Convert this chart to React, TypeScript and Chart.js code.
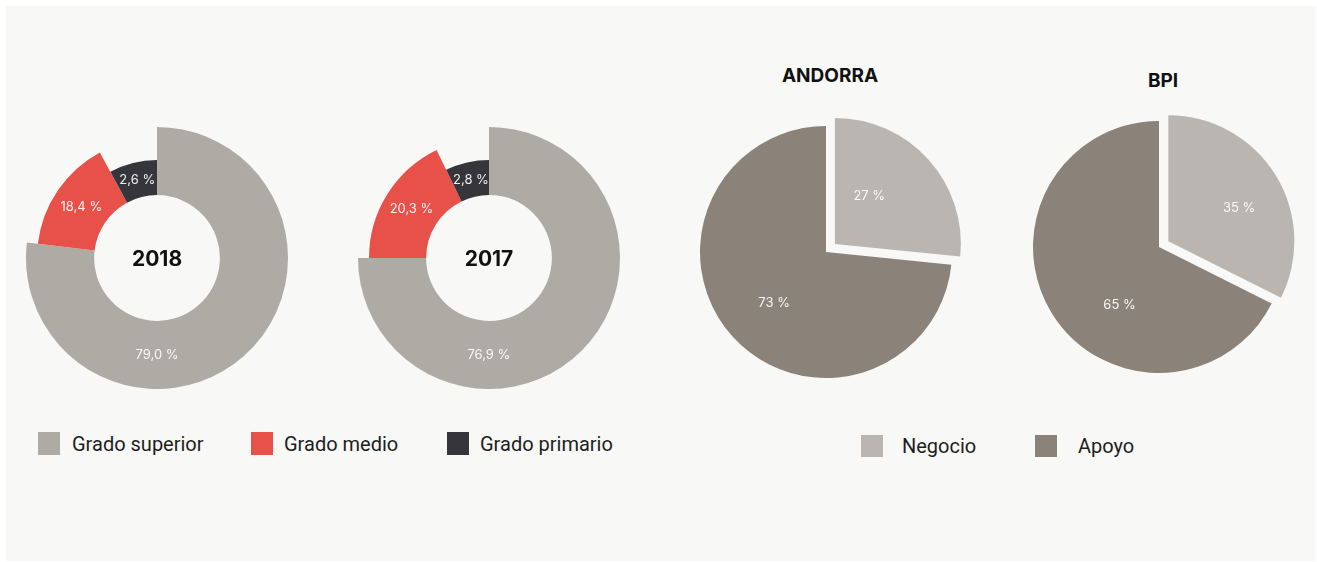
import { useEffect, useRef } from "react";
import { Chart, registerables } from "chart.js";

Chart.register(...registerables);

// ---------------- data ----------------
const educationLevels = ["Grado superior", "Grado medio", "Grado primario"];
// sweep of each ring segment as drawn in the picture (share of the full turn)
const sweep2018 = [76.9, 15.2, 7.9];
const printed2018 = ["79,0 %", "18,4 %", "2,6 %"];
const sweep2017 = [75.0, 17.8, 7.2];
const printed2017 = ["76,9 %", "20,3 %", "2,8 %"];

const staffAreas = ["Negocio", "Apoyo"];
// slice sweeps as drawn in the picture
const andorraShare = [26.6, 73.4];
const andorraPrinted = ["27 %", "73 %"];
const bpiShare = [32.4, 67.6];
const bpiPrinted = ["35 %", "65 %"];

// ---------------- styles ----------------
const educationColors = ["#aeaaa4", "#e8514a", "#36353b"];
const staffColors = ["#bab5b0", "#8b8279"];
const PANEL = "#f8f8f6";

type ShapeCfg = {
  reach?: number[];
  explode?: number[];
  texts: string[];
  pos: number[][]; // [fraction along sweep, radial fraction]
  font: string;
  color: string;
};

function shapePlugin(cfg: ShapeCfg) {
  return {
    id: "shape",
    beforeDatasetsDraw(chart: any) {
      const meta = chart.getDatasetMeta(0);
      const ctrl: any = meta.controller;
      const ca = chart.chartArea;
      const cx = (ca.left + ca.right) / 2 + (ctrl.offsetX || 0);
      const cy = (ca.top + ca.bottom) / 2 + (ctrl.offsetY || 0);
      meta.data.forEach((el: any, i: number) => {
        const base = ctrl.outerRadius ?? el.outerRadius;
        const reach = cfg.reach ? cfg.reach[i] : 1;
        el.outerRadius = base * reach;
        const ex = cfg.explode ? cfg.explode[i] : 0;
        const mid = (el.startAngle + el.endAngle) / 2;
        el.x = cx + Math.cos(mid) * ex;
        el.y = cy + Math.sin(mid) * ex;
      });
    },
    afterDatasetsDraw(chart: any) {
      const ctx = chart.ctx;
      const meta = chart.getDatasetMeta(0);
      ctx.save();
      ctx.font = cfg.font;
      ctx.fillStyle = cfg.color;
      ctx.textAlign = "center";
      ctx.textBaseline = "middle";
      meta.data.forEach((el: any, i: number) => {
        const [along, radial] = cfg.pos[i];
        const a = el.startAngle + (el.endAngle - el.startAngle) * along;
        const r = el.innerRadius + (el.outerRadius - el.innerRadius) * radial;
        ctx.fillText(cfg.texts[i], el.x + Math.cos(a) * r, el.y + Math.sin(a) * r);
      });
      ctx.restore();
    },
  };
}

function makeChart(
  canvas: HTMLCanvasElement,
  labels: string[],
  values: number[],
  colors: string[],
  radius: number,
  cutout: string | number,
  cfg: ShapeCfg
) {
  return new Chart(canvas, {
    type: "doughnut",
    data: {
      labels,
      datasets: [
        {
          data: values,
          backgroundColor: colors,
          borderWidth: 0,
          hoverOffset: 0,
        },
      ],
    },
    options: {
      responsive: false,
      animation: false,
      radius,
      cutout,
      layout: { padding: 0 },
      plugins: { legend: { display: false }, tooltip: { enabled: false } },
      events: [],
    } as any,
    plugins: [shapePlugin(cfg)],
  });
}

const labelFont = "400 13px Inter, 'Noto Sans', sans-serif";
const labelColor = "rgba(255,255,255,0.92)";

export default function App() {
  const c2018 = useRef<HTMLCanvasElement>(null);
  const c2017 = useRef<HTMLCanvasElement>(null);
  const cAnd = useRef<HTMLCanvasElement>(null);
  const cBpi = useRef<HTMLCanvasElement>(null);

  useEffect(() => {
    document.body.style.margin = "0";
    const ringReach = [1, 0.916, 0.748];
    const charts = [
      makeChart(c2018.current!, educationLevels, sweep2018, educationColors, 131, "48%", {
        reach: ringReach,
        texts: printed2018,
        pos: [[0.65, 0.5], [0.5, 0.5], [0.5, 0.5]],
        font: labelFont,
        color: labelColor,
      }),
      makeChart(c2017.current!, educationLevels, sweep2017, educationColors, 131, "48%", {
        reach: ringReach,
        texts: printed2017,
        pos: [[0.667, 0.5], [0.5, 0.5], [0.5, 0.5]],
        font: labelFont,
        color: labelColor,
      }),
      makeChart(cAnd.current!, staffAreas, andorraShare, staffColors, 126, 0, {
        explode: [12, 0],
        texts: andorraPrinted,
        pos: [[0.37, 0.47], [0.49, 0.58]],
        font: labelFont,
        color: labelColor,
      }),
      makeChart(cBpi.current!, staffAreas, bpiShare, staffColors, 126, 0, {
        explode: [11, 0],
        texts: bpiPrinted,
        pos: [[0.556, 0.62], [0.40, 0.56]],
        font: labelFont,
        color: labelColor,
      }),
    ];
    return () => charts.forEach((c) => c.destroy());
  }, []);

  const abs = (l: number, t: number, w: number, h: number): any => ({
    position: "absolute",
    left: l,
    top: t,
    width: w,
    height: h,
  });

  const titleStyle = (cx: number, cy: number, size: number): any => ({
    ...abs(cx - 80, cy - 15, 160, 30),
    lineHeight: "30px",
    textAlign: "center",
    fontFamily: "Inter, 'Noto Sans', sans-serif",
    fontWeight: 700,
    fontSize: size,
    color: "#111",
  });

  const legendText = (x: number, cy: number): any => ({
    position: "absolute",
    left: x,
    top: cy - 14,
    height: 28,
    lineHeight: "28px",
    whiteSpace: "nowrap",
    fontFamily: "Roboto, 'Noto Sans', sans-serif",
    fontSize: 20,
    color: "#1e1e1e",
  });

  return (
    <div style={{ position: "relative", width: 1317, height: 562, background: "#ffffff", overflow: "hidden" }}>
      <div style={{ ...abs(6, 6, 1310, 555), background: PANEL }} />

      <canvas ref={c2018} width={280} height={280} style={abs(17, 118, 280, 280)} />
      <canvas ref={c2017} width={280} height={280} style={abs(349, 118, 280, 280)} />
      <canvas ref={cAnd} width={300} height={300} style={abs(676, 102, 300, 300)} />
      <canvas ref={cBpi} width={300} height={300} style={abs(1009, 97, 300, 300)} />

      <div style={titleStyle(157, 259, 21)}>2018</div>
      <div style={titleStyle(489, 259, 21)}>2017</div>
      <div style={titleStyle(830, 76, 19)}>ANDORRA</div>
      <div style={titleStyle(1163, 81, 19)}>BPI</div>

      {/* left legend */}
      <div style={{ ...abs(38, 432, 22, 23), background: educationColors[0] }} />
      <div style={legendText(72, 443.5)}>{educationLevels[0]}</div>
      <div style={{ ...abs(251, 432, 22, 23), background: educationColors[1] }} />
      <div style={legendText(284, 443.5)}>{educationLevels[1]}</div>
      <div style={{ ...abs(447, 432, 22, 23), background: educationColors[2] }} />
      <div style={legendText(480, 443.5)}>{educationLevels[2]}</div>

      {/* right legend */}
      <div style={{ ...abs(861, 435, 22, 22), background: staffColors[0] }} />
      <div style={legendText(902, 446)}>{staffAreas[0]}</div>
      <div style={{ ...abs(1035, 435, 22, 22), background: staffColors[1] }} />
      <div style={legendText(1078, 446)}>{staffAreas[1]}</div>
    </div>
  );
}
